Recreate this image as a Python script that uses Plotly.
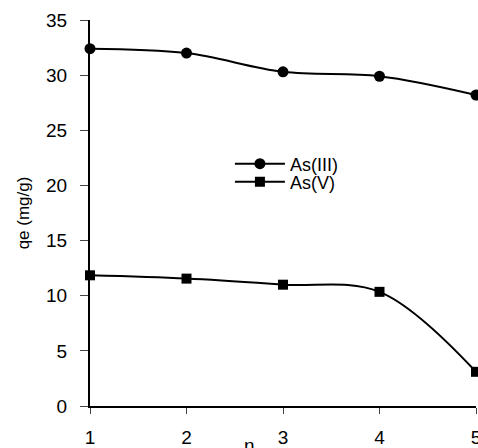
import plotly.graph_objects as go

# Number of cycles
cycles = [1, 2, 3, 4, 5]

# Adsorption capacity qe (mg/g)
as_iii = [32.4, 32.0, 30.3, 29.9, 28.2]
as_v = [11.85, 11.55, 11.0, 10.35, 3.1]

y_ticks = [0, 5, 10, 15, 20, 25, 30, 35]

font_family = "Liberation Sans, Arial, sans-serif"

fig = go.Figure()
fig.add_trace(go.Scatter(
    x=cycles, y=as_iii, name="As(III)", mode="lines+markers",
    line=dict(color="black", width=2, shape="spline", smoothing=1),
    marker=dict(symbol="circle", size=11, color="black"),
    cliponaxis=False, legend="legend",
))
fig.add_trace(go.Scatter(
    x=cycles, y=as_v, name="As(V)", mode="lines+markers",
    line=dict(color="black", width=2, shape="spline", smoothing=1),
    marker=dict(symbol="square", size=10, color="black"),
    cliponaxis=False, legend="legend2",
))

legend_style = dict(
    xanchor="left", yanchor="middle", bgcolor="rgba(0,0,0,0)",
    font=dict(size=18), itemwidth=50,
)

fig.update_layout(
    width=478, height=448,
    margin=dict(l=90, r=2, t=20, b=42),
    paper_bgcolor="white", plot_bgcolor="white",
    font=dict(family=font_family, color="black", size=19),
    showlegend=True,
    legend=dict(x=0.3625, y=0.627, **legend_style),
    legend2=dict(x=0.3625, y=0.580, **legend_style),
    xaxis=dict(
        range=[1, 5], tickvals=cycles, showgrid=False, zeroline=False,
        showline=True, linecolor="black", linewidth=2,
        ticks="outside", ticklen=6, tickwidth=1, tickcolor="#444",
        ticklabelstandoff=7, ticklabeloverflow="allow", automargin=False,
    ),
    yaxis=dict(
        range=[0, 35], tickvals=y_ticks, showgrid=False, zeroline=False,
        showline=True, linecolor="black", linewidth=2,
        ticks="outside", ticklen=8, tickwidth=1, tickcolor="#444",
        ticklabelstandoff=9, automargin=False,
        title=dict(text="qe (mg/g)", font=dict(size=17), standoff=12),
    ),
    annotations=[dict(
        text="n", xref="paper", yref="paper", x=0.4145, y=-0.071,
        xanchor="center", yanchor="top", showarrow=False,
        font=dict(size=19),
    )],
)

fig.write_html("out.html")
